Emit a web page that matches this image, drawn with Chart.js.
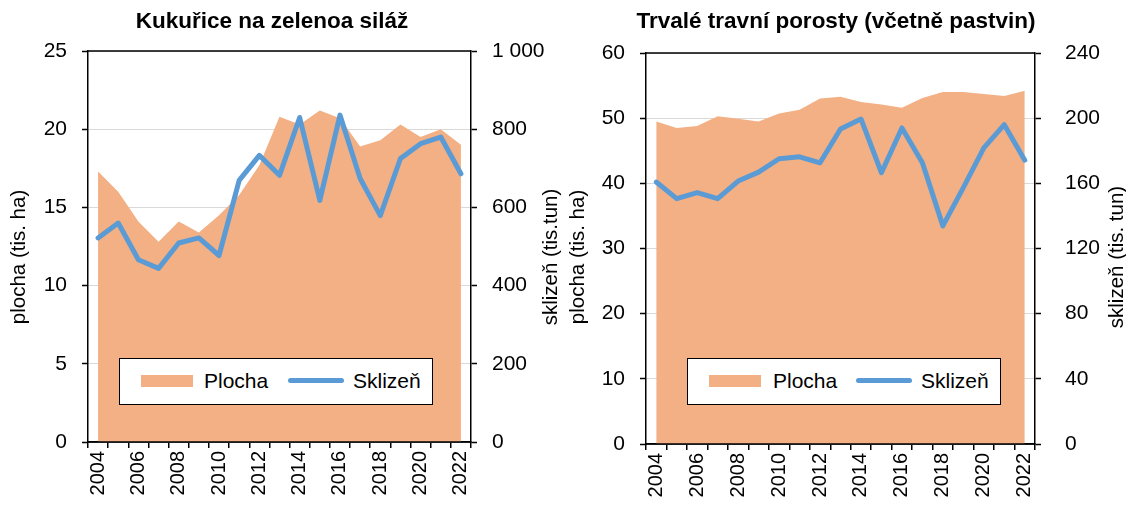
<!DOCTYPE html>
<html lang="cs">
<head>
<meta charset="utf-8">
<title>Kukuřice a trvalé travní porosty</title>
<script src="https://cdn.jsdelivr.net/npm/chart.js@4.4.1/dist/chart.umd.min.js"></script>
<style>
  body { margin: 0; background: #fff; }
  #wrap { position: relative; width: 1126px; height: 506px; font-family: "Liberation Sans", Arial, sans-serif; }
  .panel { position: absolute; top: 0; width: 563px; height: 506px; }
  .legend { position: absolute; top: 358px; width: 312px; height: 45px; border: 1.5px solid #000; background: #fff; font-size: 21px; color: #000; }
  .legend .swatch { position: absolute; left: 21px; top: 16px; width: 52px; height: 12px; background: #f2b084; }
  .legend .key { position: absolute; left: 168px; top: 19px; width: 56px; height: 5px; border-radius: 3px; background: #5b9bd5; }
  .legend .lbl { position: absolute; top: 10px; line-height: 24px; }
</style>
</head>
<body>
<div id="wrap">
  <div class="panel" style="left:0">
    <canvas id="kukurice" width="563" height="506"></canvas>
    <div class="legend" style="left:119px">
      <span class="swatch"></span><span class="lbl" style="left:84px">Plocha</span>
      <span class="key"></span><span class="lbl" style="left:233px">Sklizeň</span>
    </div>
  </div>
  <div class="panel" style="left:563px">
    <canvas id="porosty" width="563" height="506"></canvas>
    <div class="legend" style="left:124px">
      <span class="swatch"></span><span class="lbl" style="left:85px">Plocha</span>
      <span class="key"></span><span class="lbl" style="left:233px">Sklizeň</span>
    </div>
  </div>
</div>
<script>
// roky 2004 - 2022
const years = ['2004', '2005', '2006', '2007', '2008', '2009', '2010', '2011', '2012', '2013',
               '2014', '2015', '2016', '2017', '2018', '2019', '2020', '2021', '2022'];

// Kukuřice na zeleno a siláž
const kukuricePlocha = [17.3, 16.0, 14.1, 12.8, 14.1, 13.4, 14.5, 15.8, 17.7, 20.8,
                        20.3, 21.2, 20.7, 18.9, 19.3, 20.3, 19.5, 20.0, 19.0];
const kukuriceSklizen = [522, 560, 466, 444, 509, 522, 477, 669, 733, 682,
                         830, 618, 836, 674, 579, 725, 763, 780, 686];

// Trvalé travní porosty
const porostyPlocha = [49.5, 48.5, 48.8, 50.3, 49.9, 49.5, 50.7, 51.3, 53.0, 53.3,
                       52.5, 52.1, 51.6, 53.1, 54.0, 54.0, 53.7, 53.4, 54.2];
const porostySklizen = [160.8, 150.6, 154.3, 150.6, 161.4, 166.9, 175.1, 176.3, 172.6, 193.4,
                        199.5, 166.5, 194.0, 172.6, 133.9, 157.4, 181.8, 196.0, 174.2];

const FONT = '"Liberation Sans", Arial, sans-serif';

function thousands(v) {
    return String(v).replace(/\B(?=(\d{3})+(?!\d))/g, ' ');
}

// nadpis, popisky os a horni ramecek
const decor = {
    id: 'decor',
    afterDraw(chart, args, o) {
        const ctx = chart.ctx;
        const a = chart.chartArea;
        ctx.save();
        ctx.strokeStyle = '#000';
        ctx.lineWidth = 1.5;
        ctx.beginPath();
        ctx.moveTo(a.left, a.top);
        ctx.lineTo(a.right, a.top);
        ctx.moveTo(a.left, a.bottom);
        ctx.lineTo(a.right, a.bottom);
        ctx.stroke();

        ctx.fillStyle = '#000';
        ctx.textAlign = 'center';
        ctx.textBaseline = 'middle';
        ctx.font = 'bold 22.5px ' + FONT;
        ctx.fillText(o.title, o.titleX, o.titleY);

        ctx.font = '20.5px ' + FONT;
        [[o.leftTitle, o.leftX], [o.rightTitle, o.rightX]].forEach(function(t) {
            ctx.save();
            ctx.translate(t[1], o.axisTitleY);
            ctx.rotate(-Math.PI / 2);
            ctx.fillText(t[0], 0, 0);
            ctx.restore();
        });
        ctx.restore();
    }
};

function makeChart(id, c) {
    const tickFont = { family: FONT, size: 21 };
    return new Chart(document.getElementById(id), {
        type: 'line',
        data: {
            labels: years,
            datasets: [{
                label: 'Sklizeň',
                data: c.sklizen,
                yAxisID: 'y1',
                borderColor: '#5b9bd5',
                borderWidth: 5,
                borderJoinStyle: 'round',
                borderCapStyle: 'round',
                pointRadius: 0,
                fill: false,
                order: 0
            }, {
                label: 'Plocha',
                data: c.plocha,
                yAxisID: 'y',
                borderWidth: 0,
                backgroundColor: '#f2b084',
                pointRadius: 0,
                fill: 'origin',
                order: 1
            }]
        },
        options: {
            responsive: false,
            animation: false,
            layout: { padding: { top: c.top, left: 0, right: 0, bottom: 0 } },
            plugins: {
                legend: { display: false },
                tooltip: { enabled: false },
                decor: c.decor
            },
            scales: {
                x: {
                    offset: true,
                    grid: { offset: true, drawOnChartArea: false, color: '#000', tickLength: 6, lineWidth: 1.5 },
                    border: { color: '#000', width: 1.5 },
                    ticks: {
                        autoSkip: false, maxRotation: 90, minRotation: 90, padding: 3,
                        font: { family: FONT, size: 20 }, color: '#000',
                        callback: function(v, i) { return i % 2 === 0 ? years[i] : ''; }
                    },
                    afterFit: function(s) { s.height = c.xHeight; }
                },
                y: {
                    position: 'left',
                    min: 0, max: c.yMax,
                    ticks: { stepSize: c.yStep, padding: 15, font: tickFont, color: '#000' },
                    grid: { color: '#d9d9d9', lineWidth: 1, tickColor: '#000', tickWidth: 1.5, tickLength: 6 },
                    border: { color: '#000', width: 1.5 },
                    afterFit: function(s) { s.width = c.leftW; }
                },
                y1: {
                    position: 'right',
                    min: 0, max: c.y1Max,
                    ticks: { stepSize: c.y1Step, padding: c.y1Pad, font: tickFont, color: '#000', callback: thousands },
                    grid: { drawOnChartArea: false, color: '#000', tickColor: '#000', tickWidth: 1.5, tickLength: 6 },
                    border: { color: '#000', width: 1.5 },
                    afterFit: function(s) { s.width = c.rightW; }
                }
            }
        },
        plugins: [decor]
    });
}

makeChart('kukurice', {
    plocha: kukuricePlocha, sklizen: kukuriceSklizen,
    top: 51, xHeight: 64, leftW: 88, rightW: 92,
    yMax: 25, yStep: 5, y1Max: 1000, y1Step: 200, y1Pad: 15,
    decor: {
        title: 'Kukuřice na zelenoa siláž', titleX: 272, titleY: 22,
        leftTitle: 'plocha (tis. ha)', leftX: 19,
        rightTitle: 'sklizeň (tis.tun)', rightX: 551,
        axisTitleY: 257
    }
});

makeChart('porosty', {
    plocha: porostyPlocha, sklizen: porostySklizen,
    top: 53, xHeight: 62, leftW: 83, rightW: 91,
    yMax: 60, yStep: 10, y1Max: 240, y1Step: 40, y1Pad: 24,
    decor: {
        title: 'Trvalé travní porosty (včetně pastvin)', titleX: 273, titleY: 22,
        leftTitle: 'plocha (tis. ha)', leftX: 15,
        rightTitle: 'sklizeň (tis. tun)', rightX: 554,
        axisTitleY: 257
    }
});
</script>
</body>
</html>
